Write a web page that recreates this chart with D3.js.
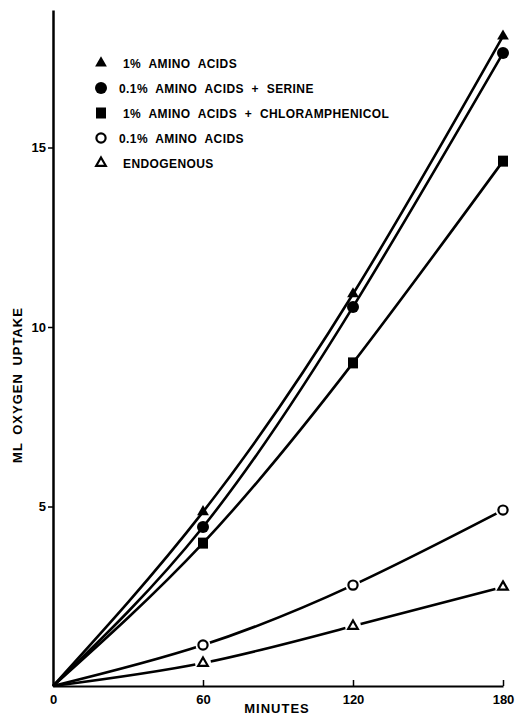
<!DOCTYPE html>
<html>
<head>
<meta charset="utf-8">
<script src="https://cdn.jsdelivr.net/npm/d3@7"></script>
<style>
  body { margin: 0; background: #fff; }
  svg text { font-family: "Liberation Sans", Arial, sans-serif; font-weight: bold; fill: #000; }
</style>
</head>
<body>
<svg id="chart" width="517" height="717"></svg>
<script>
// data
var minutes = [0, 60, 120, 180];
var seriesNames = [
  "1% AMINO ACIDS",
  "0.1% AMINO ACIDS + SERINE",
  "1% AMINO ACIDS + CHLORAMPHENICOL",
  "0.1% AMINO ACIDS",
  "ENDOGENOUS"
];
var seriesSymbols = ["triFilled", "circFilled", "sqFilled", "circOpen", "triOpen"];
var aa1 = [0, 4.85, 10.92, 18.1];
var aa01Serine = [0, 4.43, 10.56, 17.63];
var aa1Chloram = [0, 3.98, 9.0, 14.62];
var aa01 = [0, 1.14, 2.81, 4.9];
var endogenous = [0, 0.64, 1.67, 2.76];
var seriesValues = [aa1, aa01Serine, aa1Chloram, aa01, endogenous];
var xTicks = [0, 60, 120, 180];
var yTicks = [5, 10, 15];

var svg = d3.select("#chart");

var x = d3.scaleLinear().domain([0, 180]).range([53, 503]);
var y = d3.scaleLinear().domain([0, 18.83]).range([686, 10]);

// axes
var xAxis = d3.axisBottom(x).tickValues(xTicks).tickSize(-6).tickSizeOuter(0).tickPadding(9);
var gx = svg.append("g").attr("transform", "translate(0,686)").call(xAxis);
gx.select(".domain").attr("stroke-width", 2);
gx.selectAll(".tick line").attr("stroke-width", 1.5);
gx.selectAll(".tick text").style("font-size", "13px");
gx.selectAll(".tick").filter(function(d) { return d === 0; }).select("line").remove();

var yAxis = d3.axisLeft(y).tickValues(yTicks).tickSize(5).tickSizeOuter(0).tickPadding(2);
var gy = svg.append("g").attr("transform", "translate(53,0)").call(yAxis);
gy.select(".domain").attr("stroke-width", 2.5);
gy.selectAll(".tick line").attr("stroke-width", 1.5);
gy.selectAll(".tick text").style("font-size", "13px");

svg.append("text")
  .attr("x", 277).attr("y", 713)
  .attr("text-anchor", "middle")
  .style("font-size", "13px")
  .style("letter-spacing", "1px")
  .text("MINUTES");

svg.append("text")
  .attr("transform", "translate(22,385) rotate(-90)")
  .attr("text-anchor", "middle")
  .style("font-size", "13px")
  .style("letter-spacing", "1px")
  .style("word-spacing", "3px")
  .text("ML OXYGEN UPTAKE");

// curves
var line = d3.line()
  .x(function(d, i) { return x(minutes[i]); })
  .y(function(d) { return y(d); })
  .curve(d3.curveNatural);

seriesValues.forEach(function(vals) {
  svg.append("path")
    .attr("d", line(vals))
    .attr("fill", "none")
    .attr("stroke", "#000")
    .attr("stroke-width", 2.6);
});

// markers
function drawSymbol(g, sym, cx, cy) {
  if (sym == "triFilled") {
    g.append("path").attr("d", d3.symbol(d3.symbolTriangle, 60)()).attr("transform", "translate(" + cx + "," + cy + ")").attr("fill", "#000");
  } else if (sym == "circFilled") {
    g.append("circle").attr("cx", cx).attr("cy", cy).attr("r", 6).attr("fill", "#000");
  } else if (sym == "sqFilled") {
    g.append("rect").attr("x", cx - 5).attr("y", cy - 5.5).attr("width", 10).attr("height", 11).attr("fill", "#000");
  } else if (sym == "circOpen") {
    g.append("circle").attr("cx", cx).attr("cy", cy).attr("r", 7.5).attr("fill", "#fff");
    g.append("circle").attr("cx", cx).attr("cy", cy).attr("r", 4.6).attr("fill", "#fff").attr("stroke", "#000").attr("stroke-width", 2.2);
  } else if (sym == "triOpen") {
    g.append("circle").attr("cx", cx).attr("cy", cy).attr("r", 8).attr("fill", "#fff");
    g.append("path").attr("d", d3.symbol(d3.symbolTriangle, 40)()).attr("transform", "translate(" + cx + "," + cy + ")").attr("fill", "#fff").attr("stroke", "#000").attr("stroke-width", 2.2);
  }
}

var marks = svg.append("g");
seriesValues.forEach(function(vals, s) {
  vals.forEach(function(v, i) {
    if (i == 0) return;
    drawSymbol(marks, seriesSymbols[s], x(minutes[i]), y(v));
  });
});

// legend
var legendY = d3.scalePoint().domain(seriesNames).range([63, 163]);
var legend = svg.append("g");
seriesNames.forEach(function(name, i) {
  drawSymbol(legend, seriesSymbols[i], 101, legendY(name));
  legend.append("text")
    .attr("x", name.indexOf("0.1%") == 0 ? 119 : 123)
    .attr("y", legendY(name) + 4.5)
    .style("font-size", "12px")
    .style("letter-spacing", "0.4px")
    .style("word-spacing", "4px")
    .text(name);
});
</script>
</body>
</html>
